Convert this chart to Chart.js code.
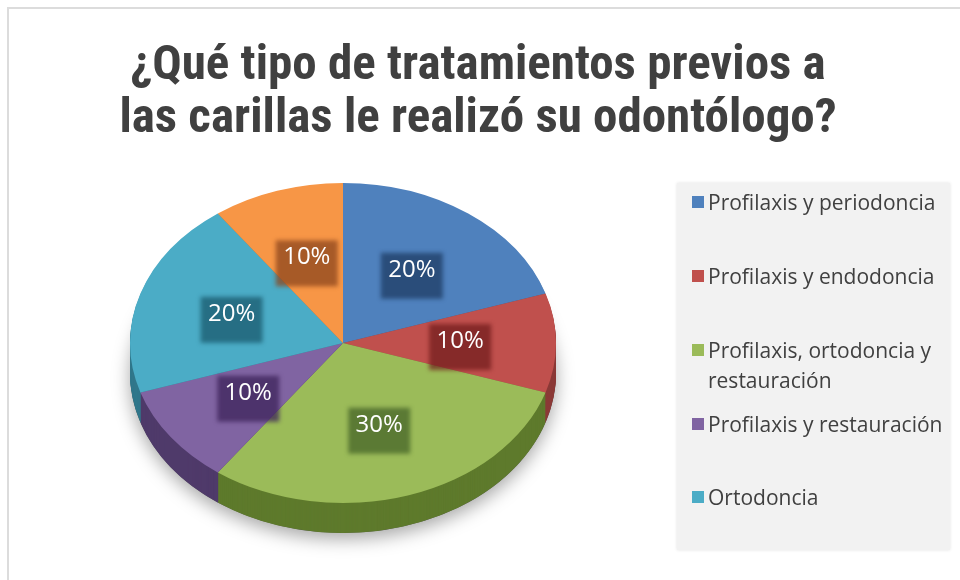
<!DOCTYPE html>
<html>
<head>
<meta charset="utf-8">
<script src="https://cdn.jsdelivr.net/npm/chart.js@4/dist/chart.umd.min.js"></script>
<style>
  html, body { margin: 0; padding: 0; background: #fff; }
  #wrap { position: relative; width: 960px; height: 580px; overflow: hidden; }
  #frame { position: absolute; left: 7px; top: 7px; width: 960px; height: 590px;
           border-left: 2px solid #dcdcdc; border-top: 2px solid #dcdcdc; }
  canvas { position: absolute; left: 0; top: 0; }
  #title { position: absolute; left: 0; width: 956px; top: 36px; text-align: center;
           font-family: "Liberation Sans Narrow", "Roboto Condensed", "Liberation Sans", sans-serif;
           font-size: 49px; line-height: 53px; color: #404040; font-weight: bold; }
  #legend { position: absolute; left: 677px; top: 183px; width: 273px; height: 367px;
            background: #f2f2f2; box-shadow: 0 0 3px rgba(0,0,0,0.12); }
  .item { position: absolute; left: 15px; font-family: "Open Sans", sans-serif; font-size: 21px;
          line-height: 30px; color: #404040; white-space: nowrap; }
  .box { position: absolute; left: 0; top: 9px; width: 12px; height: 12px; }
  .txt { margin-left: 16px; }
</style>
</head>
<body>
<div id="wrap">
  <div id="frame"></div>
  <canvas id="c" width="960" height="580"></canvas>
  <div id="title">¿Qué tipo de tratamientos previos a<br>las carillas le realizó su odontólogo?</div>
  <div id="legend"></div>
</div>
<script>
const labels = ["Profilaxis y periodoncia", "Profilaxis y endodoncia", "Profilaxis, ortodoncia y restauración",
                "Profilaxis y restauración", "Ortodoncia", ""];
const values = [20, 10, 30, 10, 20, 10];
const colors = ["#4f81bd", "#c0504d", "#9bbb59", "#8064a2", "#4bacc6", "#f79646"];
const sideColors = ["#3a5f8c", "#8c3a38", "#5e7a2c", "#4f3a6a", "#31788b", "#b86a2e"];
const labelBoxColors = ["rgba(30,60,100,0.75)", "rgba(110,25,25,0.7)", "rgba(70,100,40,0.75)",
                        "rgba(60,35,90,0.75)", "rgba(25,90,110,0.75)", "rgba(140,70,30,0.75)"];
const legendTops = [4, 78, 152, 226, 299];

const stretchX = 213 / 160;
const depth = 30;

function applyEllipse(ctx, arc) {
  ctx.translate(arc.x, arc.y);
  ctx.scale(stretchX, 1);
  ctx.translate(-arc.x, -arc.y);
}

const pie3d = {
  id: "pie3d",
  beforeDatasetsDraw(chart) {
    const ctx = chart.ctx;
    const arcs = chart.getDatasetMeta(0).data;
    // soft shadow under the pie
    ctx.save();
    ctx.shadowColor = "rgba(0,0,0,0.35)";
    ctx.shadowBlur = 18;
    ctx.shadowOffsetY = 6;
    ctx.translate(0, depth);
    applyEllipse(ctx, arcs[0]);
    ctx.beginPath();
    ctx.arc(arcs[0].x, arcs[0].y, arcs[0].outerRadius, 0, Math.PI * 2);
    ctx.fillStyle = "#555";
    ctx.fill();
    ctx.restore();
    // side walls
    for (let d = depth; d >= 1; d--) {
      arcs.forEach((arc, i) => {
        ctx.save();
        ctx.translate(0, d);
        applyEllipse(ctx, arc);
        ctx.beginPath();
        ctx.moveTo(arc.x, arc.y);
        ctx.arc(arc.x, arc.y, arc.outerRadius, arc.startAngle, arc.endAngle);
        ctx.closePath();
        ctx.fillStyle = sideColors[i];
        ctx.fill();
        ctx.restore();
      });
    }
    ctx.save();
    applyEllipse(ctx, arcs[0]);
  },
  afterDatasetsDraw(chart) {
    const ctx = chart.ctx;
    ctx.restore();
    const arcs = chart.getDatasetMeta(0).data;
    const total = values.reduce((a, b) => a + b, 0);
    arcs.forEach((arc, i) => {
      const mid = (arc.startAngle + arc.endAngle) / 2;
      const r = arc.outerRadius * 0.55;
      const x = arc.x + Math.cos(mid) * r * stretchX;
      const y = arc.y + Math.sin(mid) * r;
      const text = Math.round(values[i] / total * 100) + "%";
      ctx.save();
      ctx.filter = "blur(2px)";
      ctx.fillStyle = labelBoxColors[i];
      ctx.fillRect(x - 31, y - 19, 62, 46);
      ctx.restore();
      ctx.save();
      ctx.fillStyle = "#fff";
      ctx.font = "24px 'Open Sans', sans-serif";
      ctx.textAlign = "center";
      ctx.textBaseline = "middle";
      ctx.fillText(text, x, y - 2);
      ctx.restore();
    });
  }
};

new Chart(document.getElementById("c"), {
  type: "pie",
  data: {
    labels: labels,
    datasets: [{
      data: values,
      backgroundColor: colors,
      borderWidth: 0
    }]
  },
  options: {
    responsive: false,
    animation: false,
    layout: { padding: { left: 183, right: 457, top: 183, bottom: 77 } },
    plugins: {
      legend: { display: false },
      tooltip: { enabled: false }
    }
  },
  plugins: [pie3d]
});

const legendEl = document.getElementById("legend");
labels.slice(0, 5).forEach((name, i) => {
  const item = document.createElement("div");
  item.className = "item";
  item.style.top = legendTops[i] + "px";
  const txt = i === 2 ? "Profilaxis, ortodoncia y<br>restauración" : name;
  item.innerHTML = `<span class="box" style="background:${colors[i]}"></span><div class="txt">${txt}</div>`;
  legendEl.appendChild(item);
});
</script>
</body>
</html>
